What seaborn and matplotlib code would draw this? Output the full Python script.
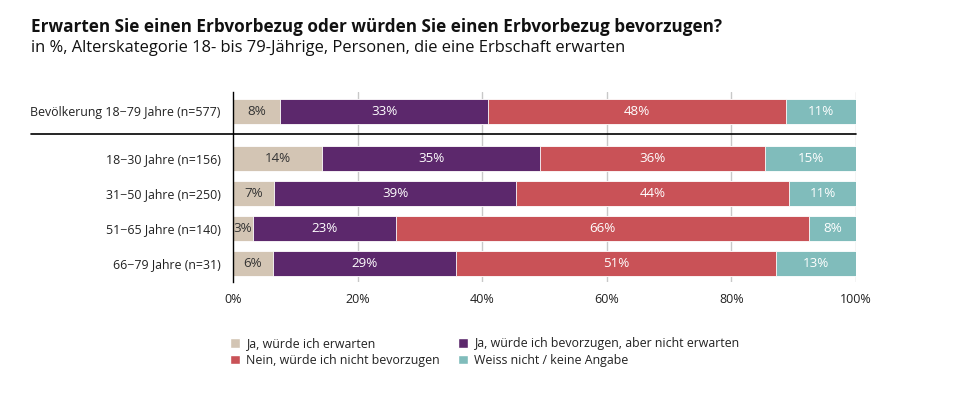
import numpy as np
import pandas as pd
import matplotlib.pyplot as plt
import seaborn as sns
from matplotlib.patches import Patch

# ─────────────────────────────
#  DATA
# ─────────────────────────────
groups = ['Bevölkerung 18−79 Jahre (n=577)', '18−30 Jahre (n=156)', '31−50 Jahre (n=250)',
          '51−65 Jahre (n=140)', '66−79 Jahre (n=31)']
answers = ['Ja, würde ich erwarten', 'Ja, würde ich bevorzugen, aber nicht erwarten',
           'Nein, würde ich nicht bevorzugen', 'Weiss nicht / keine Angabe']
ja_erwarten   = [7.6, 14.3, 6.6, 3.2, 6.4]
ja_bevorzugen = [33.4, 35.0, 38.9, 23.0, 29.4]
nein          = [47.8, 36.1, 43.8, 66.2, 51.3]
weiss_nicht   = [11.2, 14.6, 10.7, 7.6, 12.9]
row_pos = [-0.34, 1, 2, 3, 4]
xticks = [0, 20, 40, 60, 80, 100]

colors = ['#d3c5b4', '#5c286c', '#c95257', '#80bcbb']
label_colors = ['#333333', 'white', 'white', 'white']

df = pd.DataFrame({'pos': row_pos, answers[0]: ja_erwarten, answers[1]: ja_bevorzugen,
                   answers[2]: nein, answers[3]: weiss_nicht})
cum = df[answers].cumsum(axis=1)
cum['pos'] = df['pos']

# ─────────────────────────────
#  STYLE
# ─────────────────────────────
sns.set_theme(style='white')
plt.rcParams['font.family'] = ['Open Sans', 'DejaVu Sans']

fig = plt.figure(figsize=(9.61, 3.96), dpi=100)
ax = fig.add_axes([233 / 961, 1 - 282 / 396, 623 / 961, 190 / 396])

# stacked bars: draw cumulative totals from the back
for i in reversed(range(len(answers))):
    sns.barplot(data=cum, x=answers[i], y='pos', orient='y', native_scale=True,
                color=colors[i], saturation=1, width=0.7, errorbar=None,
                linewidth=0.6, edgecolor='white', ax=ax, zorder=3)

# segment labels
for i, a in enumerate(answers):
    lefts = cum[a] - df[a]
    for y, l, v in zip(df['pos'], lefts, df[a]):
        ax.text(l + v / 2, y, f'{v:.0f}%', ha='center', va='center',
                color=label_colors[i], fontsize=9.6, zorder=5)

ax.set_xlim(0, 100)
ax.set_ylim(4.53, -0.89)
ax.set_xticks(xticks)
ax.set_xticklabels([f'{t}%' for t in xticks], fontsize=9, color='#222222')
ax.set_yticks(row_pos)
ax.set_yticklabels(groups, fontsize=8.9, color='#222222')
ax.tick_params(axis='both', length=0, pad=9)
ax.tick_params(axis='x', pad=8)
ax.set_xlabel('')
ax.set_ylabel('')
for s in ['top', 'right', 'bottom']:
    ax.spines[s].set_visible(False)
ax.spines['left'].set_color('black')
ax.spines['left'].set_linewidth(1)
ax.spines['left'].set_zorder(6)
for t in xticks[1:]:
    ax.axvline(t, color='#c8c8c8', linewidth=1, zorder=1)

# separator between total and age groups
ax.axhline(0.31, xmin=(31 - 233) / 623, xmax=1, color='black', linewidth=1.2,
           clip_on=False, zorder=6)

# titles
fig.text(31 / 961, 1 - 27 / 396, 'Erwarten Sie einen Erbvorbezug oder würden Sie einen Erbvorbezug bevorzugen?',
         fontsize=12.3, fontweight='bold', color='#111111', va='center')
fig.text(31 / 961, 1 - 48 / 396, 'in %, Alterskategorie 18- bis 79-Jährige, Personen, die eine Erbschaft erwarten',
         fontsize=11.9, color='#111111', va='center')

# legend
handles = [Patch(facecolor=c, label=a) for c, a in zip(colors, answers)]
order = [0, 2, 1, 3]
fig.legend([handles[k] for k in order], [answers[k] for k in order], ncol=2,
           loc='upper left', bbox_to_anchor=(219 / 961, 1 - 326 / 396), frameon=False,
           fontsize=8.9, handlelength=0.8, handleheight=0.8, handletextpad=0.5,
           columnspacing=1.5, labelspacing=0.3, labelcolor='#222222')

fig.savefig('out.png', dpi=100, facecolor='white')
